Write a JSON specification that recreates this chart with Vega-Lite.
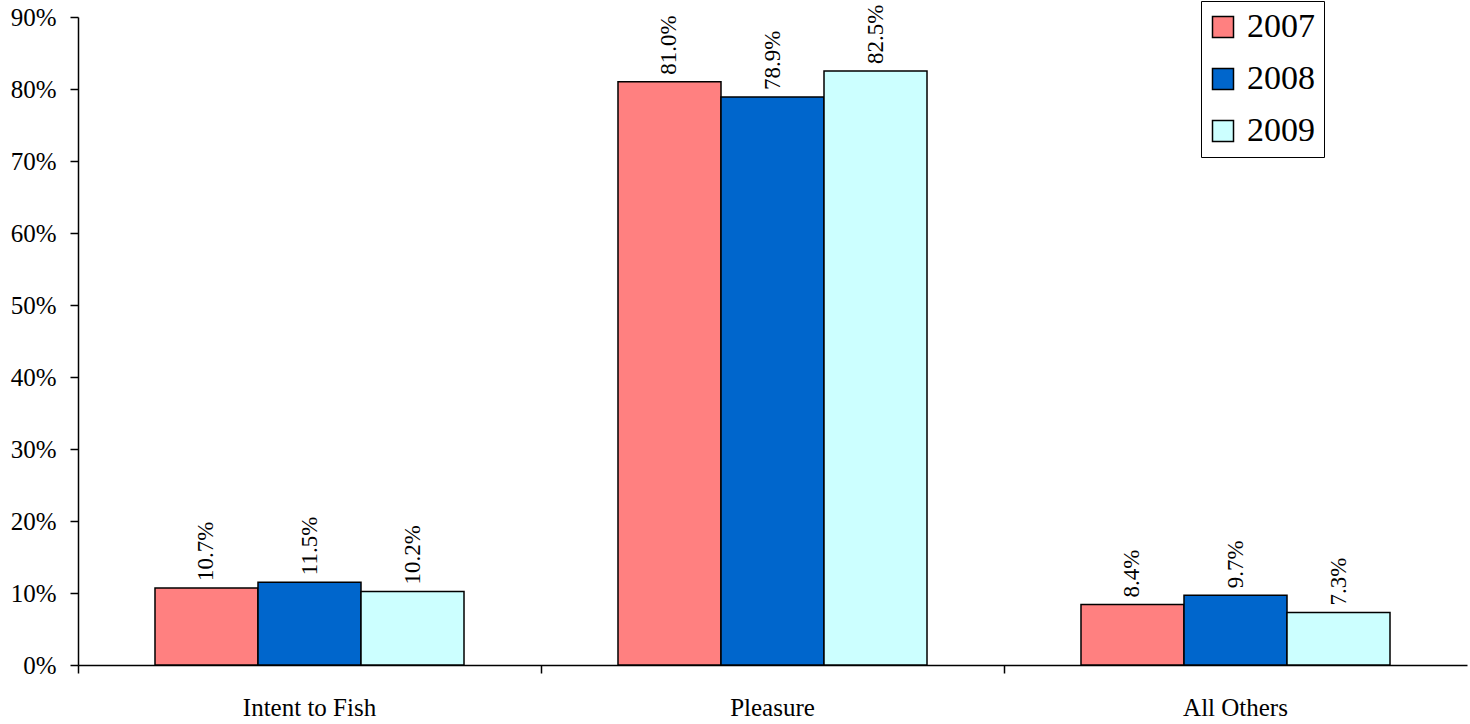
{
  "$schema": "https://vega.github.io/schema/vega-lite/v6.json",
  "autosize": {"type": "none"},
  "width": 1389,
  "height": 648,
  "padding": {"left": 78, "top": 17, "right": 3, "bottom": 59},
  "background": "white",
  "config": {
    "view": {"stroke": null},
    "font": "'Liberation Serif', serif"
  },
  "data": {
    "values": [
      {"category": "Intent to Fish", "year": "2007", "value": 0.107},
      {"category": "Intent to Fish", "year": "2008", "value": 0.115},
      {"category": "Intent to Fish", "year": "2009", "value": 0.102},
      {"category": "Pleasure", "year": "2007", "value": 0.810},
      {"category": "Pleasure", "year": "2008", "value": 0.789},
      {"category": "Pleasure", "year": "2009", "value": 0.825},
      {"category": "All Others", "year": "2007", "value": 0.084},
      {"category": "All Others", "year": "2008", "value": 0.097},
      {"category": "All Others", "year": "2009", "value": 0.073}
    ]
  },
  "encoding": {
    "x": {
      "field": "category",
      "type": "nominal",
      "sort": ["Intent to Fish", "Pleasure", "All Others"],
      "scale": {"paddingInner": 0, "paddingOuter": 0},
      "axis": {
        "title": null,
        "labelAngle": 0,
        "labelFont": "'Liberation Serif', serif",
        "labelFontSize": 25,
        "labelColor": "black",
        "labelPadding": 22,
        "domainColor": "black",
        "domainWidth": 1.5,
        "tickColor": "black",
        "tickWidth": 1.5,
        "tickSize": 8,
        "bandPosition": 0,
        "grid": false
      }
    },
    "xOffset": {"field": "year", "type": "nominal", "scale": {"paddingInner": 0, "paddingOuter": 0.7475}},
    "y": {
      "field": "value",
      "type": "quantitative",
      "scale": {"domain": [0, 0.9], "nice": false},
      "axis": {
        "title": null,
        "values": [0, 0.1, 0.2, 0.3, 0.4, 0.5, 0.6, 0.7, 0.8, 0.9],
        "format": ".0%",
        "labelFont": "'Liberation Serif', serif",
        "labelFontSize": 25,
        "labelColor": "black",
        "labelPadding": 14,
        "domainColor": "black",
        "domainWidth": 1.5,
        "tickColor": "black",
        "tickWidth": 1.5,
        "tickSize": 8,
        "grid": false
      }
    }
  },
  "layer": [
    {
      "mark": {"type": "bar", "stroke": "black", "strokeWidth": 1.5, "cornerRadius": 0},
      "encoding": {
        "color": {
          "field": "year",
          "type": "nominal",
          "scale": {"domain": ["2007", "2008", "2009"], "range": ["#FF8080", "#0066CC", "#CCFFFF"]},
          "legend": {
            "title": null,
            "orient": "none",
            "legendX": 1123,
            "legendY": -16,
            "direction": "vertical",
            "symbolType": "square",
            "symbolSize": 441,
            "symbolOffset": -4,
            "symbolStrokeColor": "black",
            "symbolStrokeWidth": 1.5,
            "labelFont": "'Liberation Serif', serif",
            "labelFontSize": 34,
            "labelColor": "black",
            "labelOffset": 7,
            "rowPadding": 18,
            "padding": 9,
            "strokeColor": "black",
            "fillColor": "white"
          }
        }
      }
    },
    {
      "mark": {"type": "text", "angle": -90, "align": "left", "baseline": "middle", "dx": 7, "font": "'Liberation Serif', serif", "fontSize": 23, "color": "black"},
      "encoding": {
        "text": {"field": "value", "type": "quantitative", "format": ".1%"}
      }
    }
  ]
}
